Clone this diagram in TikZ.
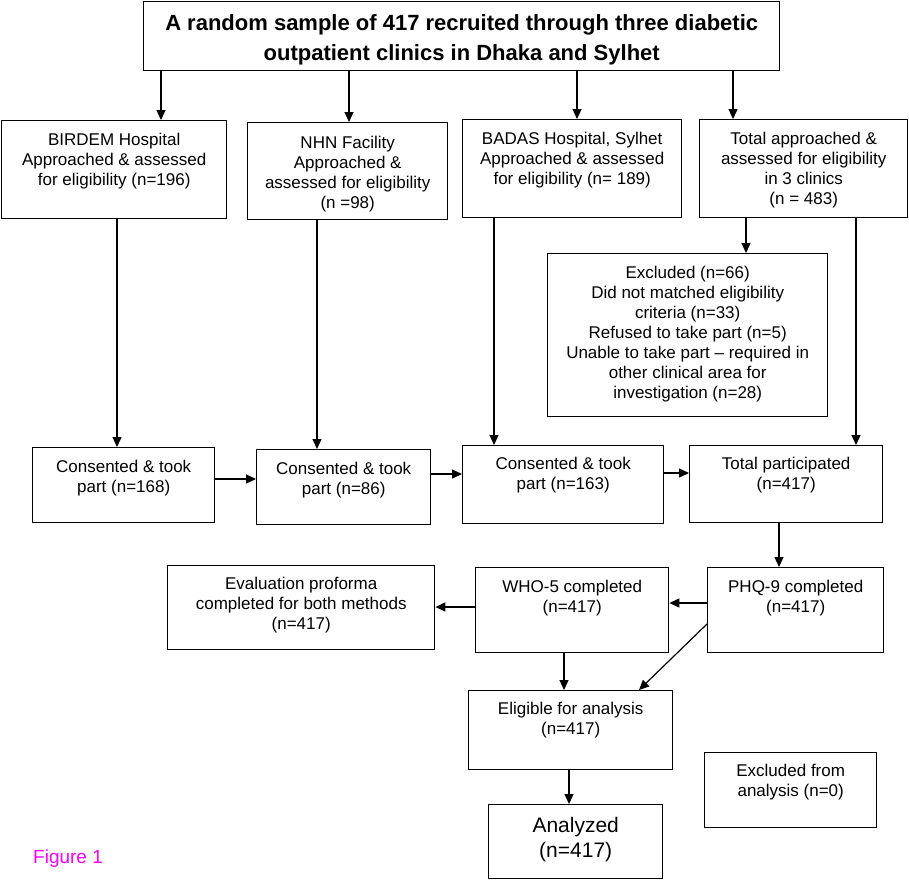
\documentclass[tikz,border=0pt]{standalone}
\usepackage{fontspec}
\setmainfont{Liberation Sans}
\usetikzlibrary{arrows.meta}
\definecolor{figmag}{RGB}{255,0,255}
\newcommand{\boxtext}[4]{\parbox[c][#2pt][t]{#1pt}{\centering\vspace*{#3pt}#4\par}}
\tikzset{
  box/.style={draw=black, line width=1.4pt, inner sep=0pt, anchor=north west,
              font=\fontsize{17}{20}\selectfont},
  arr/.style={draw=black, line width=1.2pt, -{Triangle[length=10pt,width=9pt]}},
  ln/.style={draw=black, line width=1.2pt}
}
\begin{document}
\begin{tikzpicture}[x=1pt,y=-1pt]
\useasboundingbox (0,0) rectangle (909,879);

% boxes
\node[box, font=\bfseries\fontsize{22}{30}\selectfont] (title) at (143,1)
  {\boxtext{636}{69}{13}{A random sample of 417 recruited through three diabetic\\outpatient clinics in Dhaka and Sylhet}};

\node[box] (birdem) at (1,120) {\boxtext{225}{98}{12}{BIRDEM Hospital\\Approached \& assessed\\for eligibility (n=196)}};
\node[box] (nhn) at (247,122) {\boxtext{200}{97}{13}{NHN Facility\\Approached \&\\assessed for eligibility\\(n =98)}};
\node[box] (badas) at (462,119) {\boxtext{219}{98}{12}{BADAS Hospital, Sylhet\\Approached \& assessed\\for eligibility (n= 189)}};
\node[box] (total) at (699,119) {\boxtext{208}{98}{12}{Total approached \&\\assessed for eligibility\\in 3 clinics\\(n = 483)}};

\node[box] (excl) at (547,253) {\boxtext{280}{163}{12}{Excluded (n=66)\\Did not matched eligibility\\criteria (n=33)\\Refused to take part (n=5)\\Unable to take part -- required in\\other clinical area for\\investigation (n=28)}};

\node[box] (c1) at (32,447) {\boxtext{182}{75}{12}{Consented \& took\\part (n=168)}};
\node[box] (c2) at (256,449) {\boxtext{174}{75}{12}{Consented \& took\\part (n=86)}};
\node[box] (c3) at (462,445) {\boxtext{201}{78}{11}{Consented \& took\\part (n=163)}};
\node[box] (tp) at (689,445) {\boxtext{193}{77}{11}{Total participated\\(n=417)}};

\node[box] (eval) at (167,565) {\boxtext{267}{84}{11}{Evaluation proforma\\completed for both methods\\(n=417)}};
\node[box] (who) at (475,567) {\boxtext{193}{85}{12}{WHO-5 completed\\(n=417)}};
\node[box] (phq) at (707,567) {\boxtext{176}{85}{12}{PHQ-9 completed\\(n=417)}};

\node[box] (elig) at (468,690) {\boxtext{204}{79}{11}{Eligible for analysis\\(n=417)}};
\node[box, font=\fontsize{21}{25}\selectfont] (anal) at (488,804) {\boxtext{174}{74}{13}{Analyzed\\(n=417)}};
\node[box] (exan) at (704,752) {\boxtext{172}{75}{11}{Excluded from\\analysis (n=0)}};

\node[anchor=west, inner sep=0pt, text=figmag, font=\fontsize{19}{22}\selectfont] (fig) at (33,859) {Figure 1};

% helper coordinates
\coordinate (xa) at (161,0);
\coordinate (xb) at (349,0);
\coordinate (xc) at (577,0);
\coordinate (xd) at (733,0);
\coordinate (xe) at (746,0);
\coordinate (xf) at (117,0);
\coordinate (xg) at (317,0);
\coordinate (xh) at (494,0);
\coordinate (xi) at (856,0);
\coordinate (xj) at (779,0);
\coordinate (xk) at (564,0);
\coordinate (xl) at (569,0);
\coordinate (xm) at (639,0);
\coordinate (ya) at (0,479);
\coordinate (yb) at (0,474);
\coordinate (yc) at (0,473);
\coordinate (yd) at (0,603);
\coordinate (ye) at (0,607);
\coordinate (yf) at (0,624);

% connectors
\draw[arr] (title.south -| xa) -- (birdem.north -| xa);
\draw[arr] (title.south -| xb) -- (nhn.north -| xb);
\draw[arr] (title.south -| xc) -- (badas.north -| xc);
\draw[arr] (title.south -| xd) -- (total.north -| xd);
\draw[arr] (total.south -| xe) -- (excl.north -| xe);

\draw[arr] (birdem.south -| xf) -- (c1.north -| xf);
\draw[arr] (nhn.south -| xg) -- (c2.north -| xg);
\draw[arr] (badas.south -| xh) -- (c3.north -| xh);
\draw[arr] (total.south -| xi) -- (tp.north -| xi);

\draw[arr] (c1.east |- ya) -- (c2.west |- ya);
\draw[arr] (c2.east |- yb) -- (c3.west |- yb);
\draw[arr] (c3.east |- yc) -- (tp.west |- yc);

\draw[arr] (tp.south -| xj) -- (phq.north -| xj);
\draw[arr] (phq.west |- yd) -- (who.east |- yd);
\draw[arr] (who.west |- ye) -- (eval.east |- ye);
\draw[arr] (who.south -| xk) -- (elig.north -| xk);
\draw[arr] (phq.west |- yf) -- (elig.north -| xm);
\draw[arr] (elig.south -| xl) -- (anal.north -| xl);
\end{tikzpicture}
\end{document}
